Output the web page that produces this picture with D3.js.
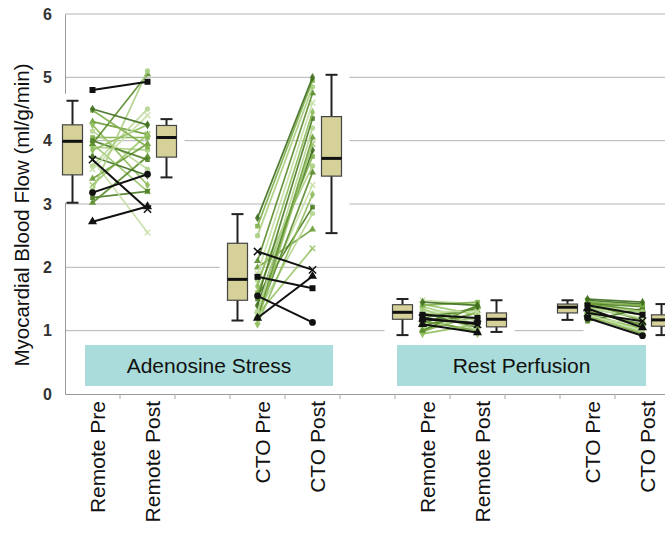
<!DOCTYPE html>
<html lang="en">
<head>
<meta charset="UTF-8">
<title>Myocardial Blood Flow</title>
<script src="https://d3js.org/d3.v7.min.js"></script>
<style>
  body { margin: 0; background: #fff; font-family: "Liberation Sans", Arial, sans-serif; }
  svg { display: block; }
</style>
</head>
<body>
<svg id="chart" width="665" height="538"></svg>
<script>
// x slots (blank ones are spacers between groups)
const categories = ["sRemPre", "sRemPost", "gap1", "sCtoPre", "sCtoPost", "gap2", "rRemPre", "rRemPost", "gap3", "rCtoPre", "rCtoPost"];
const categoryLabels = ["Remote Pre", "Remote Post", "", "CTO Pre", "CTO Post", "", "Remote Pre", "Remote Post", "", "CTO Pre", "CTO Post"];
const yTicks = [0, 1, 2, 3, 4, 5, 6];
const groupNames = ["Adenosine Stress", "Rest Perfusion"];

// per-patient paired values (first four patients drawn in black)
const stressRemotePre  = [4.80, 3.18, 2.72, 3.70, 4.50, 4.48, 3.22, 3.95, 3.55, 3.85, 4.00, 4.15, 3.40, 3.30, 3.75, 4.05, 3.90, 3.02, 3.70, 4.25, 3.10, 3.60, 4.30, 3.95];
const stressRemotePost = [4.93, 3.47, 2.96, 2.92, 4.25, 3.90, 5.10, 5.05, 4.40, 4.25, 3.70, 3.55, 3.95, 4.10, 3.45, 4.05, 3.85, 3.75, 2.55, 3.30, 3.20, 4.50, 4.10, 3.20];
const stressCtoPre     = [1.85, 1.55, 1.20, 2.25, 2.78, 2.65, 2.50, 2.10, 1.90, 1.70, 1.50, 1.30, 1.20, 1.15, 1.40, 1.60, 1.80, 1.22, 1.35, 1.10, 1.55, 1.28, 2.00, 1.25];
const stressCtoPost    = [1.67, 1.13, 1.86, 1.96, 5.00, 4.95, 4.85, 4.75, 4.60, 4.45, 4.35, 4.20, 4.05, 3.95, 3.85, 3.75, 3.60, 3.50, 3.30, 3.15, 2.95, 2.85, 2.60, 2.30];
const restRemotePre    = [1.25, 1.18, 1.10, 1.20, 1.45, 1.40, 1.35, 1.00, 1.30, 0.95, 1.20, 1.05, 1.15, 1.42, 1.28, 0.98, 1.38, 1.12, 1.48, 1.22, 1.08, 1.33, 1.02, 1.25];
const restRemotePost   = [1.20, 1.12, 0.97, 1.10, 1.40, 1.45, 1.00, 1.40, 1.30, 1.10, 1.35, 1.20, 1.00, 1.25, 1.05, 1.30, 1.15, 1.38, 1.42, 0.95, 1.28, 1.10, 1.22, 1.33];
const restCtoPre       = [1.40, 1.20, 1.35, 1.28, 1.50, 1.45, 1.40, 1.30, 1.25, 1.20, 1.15, 1.35, 1.45, 1.22, 1.48, 1.38, 1.32, 1.42, 1.18, 1.27, 1.43, 1.36, 1.24, 1.47];
const restCtoPost      = [1.25, 0.92, 1.05, 1.15, 1.45, 1.40, 1.30, 1.10, 1.00, 1.05, 1.35, 1.20, 1.15, 0.98, 1.42, 1.25, 1.08, 1.32, 1.12, 1.02, 1.38, 1.18, 0.95, 1.28];

// box plot summaries: [min, q1, median, q3, max]
const boxStressRemotePre  = [3.02, 3.46, 3.99, 4.25, 4.63];
const boxStressRemotePost = [3.42, 3.74, 4.05, 4.24, 4.34];
const boxStressCtoPre     = [1.16, 1.48, 1.81, 2.38, 2.84];
const boxStressCtoPost    = [2.54, 3.44, 3.72, 4.38, 5.04];
const boxRestRemotePre    = [0.93, 1.18, 1.29, 1.41, 1.50];
const boxRestRemotePost   = [0.98, 1.06, 1.18, 1.28, 1.48];
const boxRestCtoPre       = [1.17, 1.28, 1.37, 1.42, 1.48];
const boxRestCtoPost      = [0.93, 1.07, 1.17, 1.25, 1.42];

const panels = [
  { pre: "sRemPre", post: "sRemPost", a: stressRemotePre, b: stressRemotePost, boxA: boxStressRemotePre, boxB: boxStressRemotePost, rest: false },
  { pre: "sCtoPre", post: "sCtoPost", a: stressCtoPre, b: stressCtoPost, boxA: boxStressCtoPre, boxB: boxStressCtoPost, rest: false },
  { pre: "rRemPre", post: "rRemPost", a: restRemotePre, b: restRemotePost, boxA: boxRestRemotePre, boxB: boxRestRemotePost, rest: true },
  { pre: "rCtoPre", post: "rCtoPost", a: restCtoPre, b: restCtoPost, boxA: boxRestCtoPre, boxB: boxRestCtoPost, rest: true }
];

const greens = ["#3f6e20", "#7fb04a", "#a9cf7f", "#5a8c2c", "#c6e0a6", "#8fbd5c", "#4d7d25", "#b6d693", "#6c9d38", "#9cc66d"];
const crossSym = d3.symbolTimes || d3.symbolCross;
const symbols = [d3.symbolSquare, d3.symbolCircle, d3.symbolTriangle, crossSym, d3.symbolDiamond];

const svg = d3.select("#chart");
const x = d3.scaleBand().domain(categories).range([65, 670]);
const y = d3.scaleLinear().domain([0, 6]).range([394, 14]);
const cx = k => x(k) + x.bandwidth() / 2;
const boxW = 20;

// gridlines
svg.append("g").selectAll("line")
  .data(yTicks.filter(d => d > 0))
  .join("line")
  .attr("x1", 65).attr("x2", 665)
  .attr("y1", d => y(d)).attr("y2", d => y(d))
  .attr("stroke", "#b4b4b4").attr("stroke-width", 1);

// axes
const yAxis = svg.append("g").attr("transform", "translate(65,0)")
  .call(d3.axisLeft(y).tickValues(yTicks).tickFormat(d3.format("d")).tickSize(0).tickPadding(13));
yAxis.select(".domain").attr("stroke", "#999");
yAxis.selectAll(".tick text")
  .attr("font-family", "'Liberation Sans', Arial, sans-serif")
  .attr("font-size", 16).attr("font-weight", "bold").attr("fill", "#333");

const xAxis = svg.append("g").attr("transform", "translate(0,394)")
  .call(d3.axisBottom(x).tickSize(0).tickFormat(""));
xAxis.select(".domain").attr("stroke", "#999");
svg.append("g").selectAll("line")
  .data(categories.slice(1))
  .join("line")
  .attr("x1", d => x(d)).attr("x2", d => x(d))
  .attr("y1", 394).attr("y2", 399)
  .attr("stroke", "#aaa");

// white backgrounds of the pasted box/line pieces
panels.forEach(p => {
  [[p.pre, p.boxA, -20], [p.post, p.boxB, 19]].forEach(([k, s, off]) => {
    const c = cx(k) + off;
    svg.append("rect")
      .attr("x", c - 18).attr("width", 36)
      .attr("y", y(s[4]) - 7).attr("height", y(s[0]) - y(s[4]) + 7)
      .attr("fill", "#fff");
  });
  if (p.rest) {
    const lo = d3.min(p.a.concat(p.b)), hi = d3.max(p.a.concat(p.b));
    svg.append("rect")
      .attr("x", cx(p.pre) - 4).attr("width", cx(p.post) - cx(p.pre) + 8)
      .attr("y", y(hi) - 6).attr("height", y(lo) - y(hi) + 12)
      .attr("fill", "#fff");
  }
});

// paired patient lines
panels.forEach(p => {
  const g = svg.append("g");
  d3.range(p.a.length).reverse().forEach(i => {
    const col = i < 4 ? "#111" : greens[(i - 4) % greens.length];
    const op = i < 4 ? 1 : 0.9;
    g.append("line")
      .attr("x1", cx(p.pre)).attr("x2", cx(p.post))
      .attr("y1", y(p.a[i])).attr("y2", y(p.b[i]))
      .attr("stroke", col).attr("stroke-width", i < 4 ? 2 : 1.7).attr("opacity", op);
    const type = symbols[i % symbols.length];
    const isStroke = type === crossSym;
    const sym = d3.symbol().type(type).size(i < 4 ? 36 : 22);
    [[p.pre, p.a[i]], [p.post, p.b[i]]].forEach(([k, v]) => {
      g.append("path")
        .attr("d", sym())
        .attr("transform", `translate(${cx(k)},${y(v)})`)
        .attr("fill", isStroke ? "none" : col)
        .attr("stroke", isStroke ? col : "none")
        .attr("stroke-width", 1.5)
        .attr("opacity", op);
    });
  });
});

// box plots
function drawBox(c, s) {
  const g = svg.append("g");
  g.append("line").attr("x1", c).attr("x2", c).attr("y1", y(s[0])).attr("y2", y(s[4]))
    .attr("stroke", "#222").attr("stroke-width", 2);
  [s[0], s[4]].forEach(v => g.append("line")
    .attr("x1", c - 6).attr("x2", c + 6).attr("y1", y(v)).attr("y2", y(v))
    .attr("stroke", "#222").attr("stroke-width", 2));
  g.append("rect")
    .attr("x", c - boxW / 2).attr("width", boxW)
    .attr("y", y(s[3])).attr("height", y(s[1]) - y(s[3]))
    .attr("fill", "#d5d199").attr("stroke", "#444").attr("stroke-width", 1.2);
  g.append("line").attr("x1", c - boxW / 2).attr("x2", c + boxW / 2)
    .attr("y1", y(s[2])).attr("y2", y(s[2]))
    .attr("stroke", "#111").attr("stroke-width", 3);
}
panels.forEach(p => {
  drawBox(cx(p.pre) - 20, p.boxA);
  drawBox(cx(p.post) + 19, p.boxB);
});

// group label boxes
const groupSpans = [[x("sRemPre") + 20, x("sCtoPost") + x.bandwidth() - 7], [x("rRemPre") + 2, x("rCtoPost") + x.bandwidth() - 24]];
groupNames.forEach((name, i) => {
  const [x0, x1] = groupSpans[i];
  svg.append("rect").attr("x", x0).attr("y", 345).attr("width", x1 - x0).attr("height", 41)
    .attr("fill", "#a9dcda");
  svg.append("text").attr("x", (x0 + x1) / 2).attr("y", 373)
    .attr("text-anchor", "middle").attr("font-size", 21).attr("fill", "#111")
    .text(name);
});

// category labels
svg.append("g").selectAll("text")
  .data(categories.filter((d, i) => categoryLabels[i]))
  .join("text")
  .attr("transform", d => `translate(${cx(d) + 12},401) rotate(-90)`)
  .attr("text-anchor", "end")
  .attr("font-size", 21).attr("fill", "#111")
  .text(d => categoryLabels[categories.indexOf(d)]);

// y title
svg.append("text")
  .attr("transform", "translate(29,215) rotate(-90)")
  .attr("text-anchor", "middle").attr("font-size", 20.5).attr("fill", "#111")
  .text("Myocardial Blood Flow (ml/g/min)");
</script>
</body>
</html>
